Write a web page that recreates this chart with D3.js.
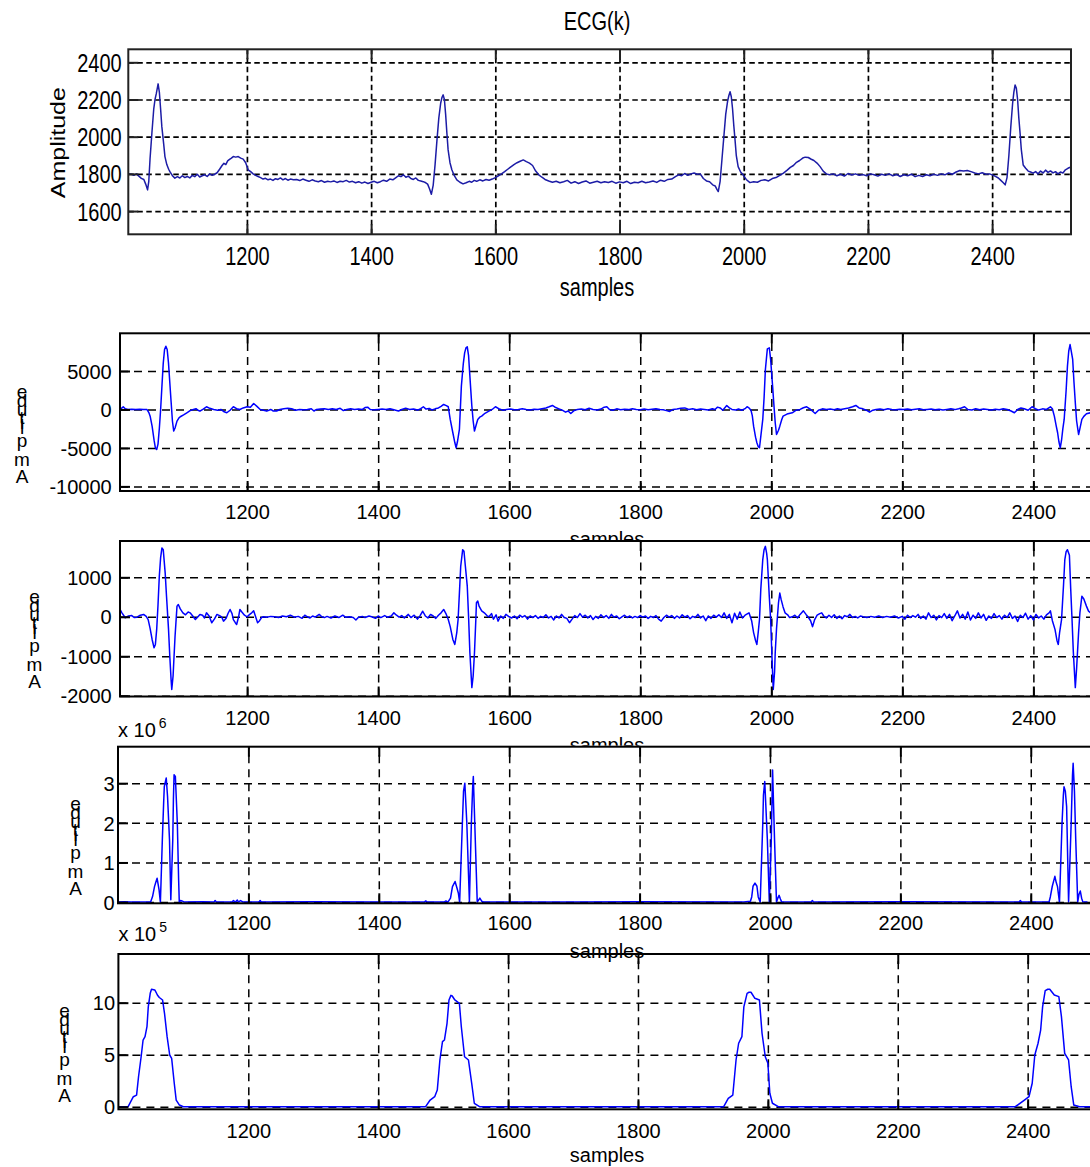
<!DOCTYPE html>
<html>
<head>
<meta charset="utf-8">
<script src="https://cdn.jsdelivr.net/npm/d3@7"></script>
<style>
  body { margin: 0; background: #fff; }
  svg { display: block; }
</style>
</head>
<body>
<svg id="chart"></svg>
<script>
// ---- data ----

// top panel: raw ECG, [sample, amplitude]
const ecgSignal = [
  [1009,1800],[1014,1798],[1018,1792],[1022,1800],[1026,1788],[1030,1776],[1034,1770],[1037,1745],[1040,1714],
  [1042,1760],[1044,1880],[1047,2020],[1050,2150],[1052,2200],[1054,2230],[1057,2284],[1059,2240],[1061,2150],
  [1063,2054],[1066,1960],[1068,1893],[1071,1850],[1074,1825],[1076,1812],[1080,1790],[1084,1777],
  [1088,1785],[1092,1778],[1096,1790],[1100,1780],[1104,1786],[1108,1778],[1112,1792],[1116,1785],[1120,1798],
  [1124,1783],[1128,1790],[1132,1795],[1136,1786],[1140,1800],[1144,1792],[1148,1798],
  [1152,1806],[1156,1825],[1160,1845],[1163,1857],[1166,1850],[1169,1870],[1172,1878],[1175,1885],[1178,1893],
  [1182,1890],[1186,1893],[1190,1885],[1194,1879],[1198,1860],[1202,1822],[1206,1812],[1210,1800],[1214,1792],[1218,1786],
  [1222,1780],[1226,1772],[1230,1776],[1234,1768],[1238,1772],[1242,1765],[1246,1774],[1250,1770],[1254,1778],
  [1258,1768],[1262,1775],[1266,1766],[1270,1772],[1275,1768],[1280,1770],[1285,1764],[1290,1772],[1295,1766],
  [1300,1760],[1305,1768],[1310,1762],[1315,1758],[1320,1764],[1325,1755],[1330,1760],[1335,1757],[1340,1762],
  [1345,1754],[1350,1760],[1355,1758],[1360,1765],[1365,1756],[1370,1760],[1375,1752],[1380,1758],[1385,1750],
  [1390,1756],[1395,1748],[1400,1755],[1405,1760],[1410,1752],[1415,1758],[1420,1766],[1425,1760],[1430,1772],
  [1435,1768],[1440,1780],[1444,1790],[1448,1785],[1452,1795],[1456,1782],[1460,1788],[1464,1775],[1468,1770],
  [1472,1778],[1476,1765],[1480,1762],[1484,1758],[1488,1752],[1491,1745],[1494,1720],[1497,1690],
  [1500,1740],[1503,1850],[1506,1980],[1509,2100],[1512,2180],[1514,2210],[1516,2225],[1518,2200],[1520,2120],
  [1522,2020],[1524,1929],[1527,1860],[1530,1822],[1534,1790],[1538,1768],[1543,1755],[1548,1746],[1553,1752],
  [1558,1760],[1562,1755],[1566,1765],[1570,1760],[1575,1768],[1580,1762],[1585,1770],[1590,1766],[1595,1772],
  [1600,1780],[1605,1790],[1610,1800],[1615,1812],[1620,1825],[1625,1838],[1630,1850],[1635,1860],[1640,1868],
  [1645,1875],[1650,1866],[1655,1858],[1660,1845],[1665,1815],[1670,1795],[1675,1782],[1680,1770],
  [1686,1762],[1692,1755],[1698,1760],[1704,1752],[1710,1758],[1716,1765],[1722,1750],[1728,1758],[1734,1748],
  [1740,1756],[1746,1762],[1752,1750],[1758,1755],[1764,1760],[1770,1752],[1776,1758],[1782,1754],[1788,1760],
  [1794,1750],[1800,1757],[1806,1752],[1812,1760],[1818,1748],[1824,1755],[1830,1752],[1836,1760],[1842,1752],
  [1848,1756],[1854,1762],[1860,1754],[1866,1766],[1872,1760],[1878,1770],[1884,1772],[1890,1785],[1895,1795],
  [1900,1790],[1905,1802],[1910,1792],[1915,1800],[1920,1805],[1925,1798],[1930,1800],[1935,1775],[1940,1762],
  [1945,1758],[1950,1741],[1954,1735],[1957,1715],[1959,1705],
  [1962,1760],[1965,1880],[1968,2000],[1971,2120],[1974,2190],[1976,2220],[1978,2242],[1980,2215],[1982,2150],
  [1984,2060],[1986,1983],[1988,1900],[1991,1839],[1995,1810],[1999,1795],[2004,1770],[2010,1753],[2016,1758],
  [2022,1755],[2028,1765],[2034,1768],[2040,1762],[2046,1775],[2052,1780],[2058,1792],[2064,1804],
  [2070,1820],[2075,1835],[2080,1845],[2085,1862],[2090,1872],[2095,1885],[2099,1890],[2104,1888],[2108,1880],
  [2113,1872],[2118,1858],[2123,1839],[2128,1815],[2133,1800],[2138,1795],
  [2144,1800],[2150,1790],[2156,1798],[2162,1788],[2168,1802],[2174,1794],[2180,1800],[2186,1792],[2192,1796],
  [2198,1790],[2204,1800],[2210,1795],[2216,1788],[2222,1798],[2228,1792],[2234,1800],[2240,1790],[2246,1797],
  [2252,1786],[2258,1795],[2264,1790],[2270,1798],[2276,1785],[2282,1792],[2288,1786],[2294,1795],[2300,1790],
  [2306,1798],[2312,1792],[2318,1800],[2324,1795],[2330,1805],[2336,1798],[2342,1810],[2348,1818],[2354,1815],
  [2360,1818],[2366,1812],[2372,1805],[2378,1800],[2384,1806],[2390,1798],[2396,1800],[2402,1792],[2406,1785],
  [2410,1778],[2414,1765],[2418,1752],[2421,1741],
  [2424,1780],[2427,1900],[2430,2050],[2433,2180],[2435,2240],[2437,2278],[2439,2260],[2441,2200],[2443,2100],
  [2445,2019],[2447,1930],[2450,1848],[2454,1830],[2458,1815],[2462,1810],[2466,1804],[2470,1812],[2474,1800],
  [2478,1815],[2482,1805],[2486,1820],[2490,1808],[2494,1816],[2498,1805],[2502,1812],[2506,1800],[2510,1810],
  [2514,1805],[2518,1822],[2522,1830],[2527,1838]
];

// second panel: filtered signal
const filteredSignal = [
  [1006,0],[1009,200],[1011,350],[1014,100],[1018,0],[1024,40],[1030,0],[1036,30],[1042,0],[1047,0],[1050,-400],
  [1052,-870],[1055,-2170],[1058,-4000],[1060,-4980],[1062,-5200],[1064,-4500],[1066,-2500],[1068,0],[1070,3030],
  [1072,6000],[1074,7800],[1076,8220],[1078,7800],[1080,6060],[1082,3500],[1084,1000],[1086,-1500],[1088,-2810],
  [1090,-2400],[1093,-1520],[1096,-1100],[1098,-950],[1103,-700],[1108,-430],[1113,-150],[1118,0],[1122,100],
  [1125,-100],[1128,-220],[1133,50],[1138,350],[1143,150],[1149,0],[1155,-100],[1160,0],[1165,-300],[1169,-430],
  [1174,-100],[1179,350],[1184,100],[1189,0],[1194,200],[1200,350],[1205,300],[1210,780],[1215,400],[1220,0],
  [1225,-100],[1230,-220],[1236,0],[1240,-200],[1245,-200],[1250,0],[1256,100],[1262,150],[1268,100],[1274,-100],
  [1280,0],[1286,-50],[1292,0],[1298,100],[1302,-200],[1306,0],[1312,50],[1318,100],[1324,0],[1330,80],[1336,0],
  [1342,150],[1347,-150],[1352,0],[1358,100],[1364,0],[1370,50],[1376,0],[1380,250],[1384,300],[1388,0],[1394,-50],
  [1400,0],[1406,50],[1412,0],[1418,80],[1424,-50],[1431,-200],[1436,0],[1442,170],[1448,0],[1454,60],[1460,-80],
  [1465,100],[1469,350],[1473,50],[1478,120],[1482,-60],[1487,80],[1492,200],[1496,400],[1500,650],[1504,500],
  [1507,350],[1510,-1300],[1514,-3030],[1517,-4300],[1519,-4980],[1521,-4200],[1524,-2600],[1527,3030],[1530,6000],
  [1532,7360],[1534,8000],[1536,8140],[1538,7000],[1539,5630],[1541,3000],[1543,430],[1545,-1500],[1547,-2810],
  [1550,-1900],[1552,-1300],[1555,-1000],[1558,-870],[1563,-500],[1569,-220],[1574,0],[1579,350],[1584,100],
  [1590,-90],[1596,0],[1602,60],[1608,-50],[1614,0],[1620,80],[1626,0],[1632,-60],[1638,40],[1644,0],[1650,100],
  [1656,200],[1661,350],[1666,520],[1671,250],[1676,80],[1681,-100],[1686,-350],[1690,-200],[1694,-520],[1699,-150],
  [1704,0],[1710,60],[1716,-40],[1722,150],[1728,0],[1734,-60],[1740,50],[1745,300],[1749,350],[1753,0],[1758,-100],
  [1764,80],[1770,-50],[1776,40],[1782,-20],[1788,100],[1794,0],[1800,-30],[1806,50],[1812,-40],[1818,20],[1824,80],
  [1830,0],[1835,-50],[1840,-150],[1845,-260],[1850,0],[1856,60],[1862,160],[1868,200],[1874,0],[1880,80],[1886,-40],
  [1892,60],[1898,0],[1904,-60],[1910,100],[1914,0],[1918,300],[1922,200],[1926,-100],[1932,520],[1936,200],[1940,0],
  [1946,-80],[1950,50],[1955,-100],[1960,100],[1963,350],[1966,200],[1969,-100],[1971,-800],[1973,-2170],
  [1976,-3600],[1978,-4330],[1980,-4800],[1982,-4980],[1984,-3500],[1987,-1300],[1989,1500],[1991,5200],[1993,7000],
  [1994,7880],[1997,8010],[1999,6500],[2002,3030],[2004,600],[2006,-1730],[2008,-3250],[2011,-2700],[2013,-2170],
  [2016,-1300],[2018,-870],[2024,-600],[2032,-430],[2038,-100],[2044,0],[2049,220],[2054,350],[2060,0],[2064,-300],
  [2067,-520],[2072,-100],[2078,80],[2084,0],[2090,60],[2096,-40],[2101,80],[2106,0],[2112,100],[2118,200],[2124,350],
  [2129,520],[2134,200],[2140,80],[2145,-100],[2150,-350],[2155,-100],[2160,0],[2166,60],[2172,-30],[2178,100],
  [2184,0],[2190,-50],[2196,40],[2202,0],[2208,60],[2214,-40],[2220,20],[2226,80],[2232,-50],[2238,0],[2244,60],
  [2250,-40],[2256,20],[2262,-80],[2268,0],[2274,80],[2280,-20],[2286,100],[2290,200],[2295,350],[2300,0],[2306,-60],
  [2312,100],[2318,-50],[2324,60],[2330,0],[2336,-80],[2342,40],[2348,-40],[2354,80],[2360,0],[2366,-200],[2371,-430],
  [2376,0],[2381,200],[2386,100],[2392,-100],[2398,350],[2403,100],[2408,-80],[2414,80],[2420,0],[2426,350],
  [2429,100],[2432,-870],[2435,-2200],[2437,-3030],[2439,-4200],[2441,-4980],[2443,-4000],[2445,-2500],[2447,-1300],
  [2450,2500],[2452,5630],[2454,7600],[2456,8440],[2458,7500],[2460,6500],[2462,3500],[2464,870],[2466,-1500],
  [2469,-3250],[2471,-2500],[2474,-1300],[2477,-900],[2481,-560],[2487,-430]
];

// third panel: derivative
const derivSignal = [
  [1006,185],[1009,100],[1014,-25],[1019,20],[1024,30],[1028,-20],[1032,-10],[1037,40],[1042,60],[1046,10],[1049,-70],
  [1052,-300],[1055,-575],[1058,-785],[1060,-700],[1062,-320],[1064,300],[1066,1030],[1068,1500],[1070,1745],
  [1072,1700],[1075,1100],[1077,520],[1080,-300],[1082,-1000],[1084,-1600],[1085,-1840],[1087,-1500],[1088,-1165],
  [1090,-500],[1093,270],[1095,310],[1098,200],[1102,100],[1106,50],[1110,120],[1113,100],[1117,20],[1121,-70],
  [1125,0],[1128,60],[1132,40],[1135,-30],[1138,100],[1142,20],[1146,-150],[1150,-60],[1154,60],[1158,30],[1161,0],
  [1164,-110],[1168,-40],[1171,90],[1174,185],[1177,80],[1179,-70],[1182,-150],[1184,-195],[1187,0],[1189,185],
  [1192,120],[1196,40],[1200,0],[1204,60],[1207,100],[1210,150],[1213,0],[1216,-150],[1219,-100],[1222,-20],[1225,0],
  [1230,-10],[1236,10],[1242,0],[1248,-20],[1254,20],[1260,0],[1266,40],[1272,-10],[1278,10],[1284,-40],[1288,40],
  [1292,0],[1296,-30],[1300,20],[1304,-10],[1310,60],[1314,0],[1318,-20],[1322,10],[1328,-30],[1334,20],[1340,-20],
  [1346,40],[1350,-10],[1356,0],[1362,-20],[1366,-80],[1370,-10],[1376,10],[1380,-20],[1386,20],[1390,0],[1396,-40],
  [1400,20],[1404,-20],[1410,30],[1414,-10],[1420,20],[1424,100],[1428,40],[1432,-10],[1436,30],[1440,-30],[1446,60],
  [1450,-20],[1455,40],[1460,-60],[1464,30],[1468,140],[1472,20],[1476,-30],[1480,60],[1484,20],[1488,-40],[1492,40],
  [1496,100],[1500,185],[1504,60],[1507,-70],[1510,-250],[1514,-575],[1517,-700],[1520,-400],[1522,-70],[1524,600],
  [1526,1280],[1529,1700],[1531,1660],[1533,1300],[1536,775],[1538,0],[1540,-910],[1543,-1795],[1545,-1500],
  [1547,-910],[1549,-100],[1550,355],[1552,400],[1554,270],[1558,150],[1562,100],[1566,30],[1569,0],[1573,80],
  [1576,-60],[1580,50],[1583,-110],[1587,20],[1591,-40],[1595,60],[1600,0],[1604,-30],[1608,20],[1612,-50],[1616,40],
  [1620,-10],[1624,30],[1628,-60],[1632,20],[1636,-20],[1640,30],[1644,-40],[1648,10],[1652,-20],[1656,50],[1660,-30],
  [1664,10],[1668,-80],[1672,20],[1676,-30],[1680,60],[1684,-20],[1688,-40],[1692,-150],[1696,-60],[1700,30],
  [1704,-20],[1708,80],[1712,-10],[1716,40],[1720,-30],[1724,30],[1728,-70],[1732,10],[1736,-40],[1740,50],[1744,-20],
  [1748,30],[1752,-40],[1756,60],[1760,-10],[1764,20],[1768,-50],[1772,0],[1776,40],[1780,-20],[1784,20],[1788,-30],
  [1792,10],[1796,-20],[1800,30],[1804,-10],[1808,20],[1812,-40],[1816,10],[1820,-20],[1824,30],[1828,-60],
  [1832,-110],[1836,-20],[1840,40],[1844,-10],[1848,30],[1852,-40],[1856,20],[1860,-30],[1864,50],[1868,-10],
  [1872,30],[1876,-50],[1880,10],[1884,-20],[1888,60],[1892,-30],[1896,20],[1900,-100],[1904,20],[1908,-40],
  [1912,40],[1916,-10],[1920,50],[1924,-20],[1928,100],[1932,-40],[1936,60],[1940,-150],[1944,90],[1948,-60],
  [1952,120],[1956,-30],[1960,40],[1966,100],[1970,-100],[1973,-400],[1976,-600],[1978,-700],[1980,-400],[1982,-70],
  [1984,700],[1987,1450],[1989,1700],[1991,1785],[1993,1600],[1994,1450],[1997,500],[1999,-70],[2001,-1000],
  [2003,-1840],[2005,-1400],[2006,-910],[2008,-300],[2011,355],[2013,600],[2015,440],[2018,250],[2021,100],[2025,50],
  [2028,-20],[2032,0],[2036,40],[2040,-30],[2044,60],[2049,150],[2053,60],[2056,0],[2060,-100],[2063,-250],[2066,-80],
  [2070,40],[2074,80],[2077,100],[2080,20],[2084,-30],[2088,40],[2092,-20],[2096,50],[2100,-40],[2104,20],[2108,-50],
  [2112,30],[2116,0],[2120,60],[2124,-20],[2128,10],[2132,-30],[2136,20],[2140,0],[2146,-20],[2152,10],[2158,-10],
  [2164,20],[2170,-20],[2176,10],[2182,-10],[2188,20],[2194,-30],[2200,10],[2204,-60],[2208,40],[2212,-20],[2216,30],
  [2220,-10],[2224,60],[2228,-40],[2232,20],[2236,-60],[2240,100],[2244,-20],[2248,40],[2252,-80],[2256,30],
  [2260,-20],[2264,80],[2268,-40],[2272,60],[2276,-100],[2280,20],[2284,150],[2288,-30],[2292,60],[2296,-60],
  [2300,120],[2304,-80],[2308,40],[2312,-40],[2316,100],[2320,-30],[2324,60],[2328,-90],[2332,20],[2336,-40],
  [2340,80],[2344,-20],[2348,30],[2352,-60],[2356,40],[2360,-20],[2364,100],[2368,-40],[2372,20],[2376,-120],
  [2380,40],[2384,-20],[2388,90],[2392,-60],[2396,30],[2400,-80],[2404,60],[2408,-30],[2412,20],[2416,-60],[2420,50],
  [2424,100],[2426,150],[2429,-100],[2433,-320],[2436,-600],[2438,-700],[2440,-400],[2443,-70],[2446,800],
  [2448,1450],[2450,1650],[2452,1700],[2455,1560],[2457,700],[2459,-70],[2461,-900],[2464,-1795],[2466,-1300],
  [2469,-400],[2471,100],[2474,520],[2477,450],[2481,270],[2484,150],[2487,100]
];

// fourth panel: squared signal, in units of 10^6
const squaredSignal = [
  [1000,0],[1010,0.01],[1020,0],[1050,0],[1053,0.14],[1056,0.39],[1058,0.5],[1060,0.6],[1063,0.31],[1065,0],
  [1066,0.5],[1068,1.57],[1070,2.5],[1071,2.91],[1074,3.13],[1076,2.66],[1079,1.57],[1081,0.06],[1084,1.57],
  [1085,2.6],[1086,3.21],[1088,3.17],[1091,1.99],[1093,0.56],[1094,0],[1096,0.04],[1098,0.03],[1102,0],[1130,0.01],
  [1147,0],[1149,0.04],[1151,0],[1175,0],[1177,0.04],[1180,0],[1183,0.05],[1185,0],[1188,0.04],[1192,0],[1216,0],
  [1218,0.04],[1220,0],[1300,0.01],[1400,0],[1470,0],[1472,0.03],[1474,0],[1500,0],[1503,0.03],[1506,0],[1510,0.1],
  [1513,0.39],[1517,0.52],[1520,0.35],[1522,0.23],[1524,0],[1528,1.9],[1530,2.8],[1532,3.0],[1535,2.0],[1539,0],
  [1542,2.0],[1544,2.9],[1545,3.17],[1548,1.57],[1551,0],[1553,0.05],[1555,0.1],[1558,0.02],[1561,0],[1700,0],
  [1800,0.01],[1960,0],[1970,0.02],[1972,0.13],[1974,0.4],[1977,0.48],[1980,0.4],[1982,0.13],[1985,0],[1989,2.0],
  [1990,2.7],[1992,3.04],[1996,1.57],[1999,0],[2002,1.57],[2004,3.33],[2007,1.57],[2010,0],[2012,0.1],[2014,0.17],
  [2016,0.08],[2018,0],[2063,0],[2065,0.04],[2067,0],[2200,0.01],[2382,0],[2384,0.04],[2386,0],[2428,0],[2430,0.13],
  [2433,0.4],[2437,0.65],[2439,0.5],[2441,0.39],[2444,0],[2448,2.0],[2450,2.7],[2451,2.91],[2453,2.8],[2455,2.41],
  [2458,0],[2462,2.0],[2464,3.2],[2465,3.5],[2467,2.8],[2469,1.57],[2472,0],[2474,0.2],[2476,0.28],[2478,0.1],
  [2480,0],[2487,0]
];

// fifth panel: moving-window integration, in units of 10^5
const integratedSignal = [
  [1000,0],[1015,0],[1019,0.48],[1023,0.96],[1028,1.12],[1031,2.88],[1035,4.8],[1038,6.41],[1041,6.73],[1044,7.69],
  [1046,9.6],[1049,10.9],[1051,11.29],[1056,11.22],[1058,11.0],[1060,10.74],[1063,10.5],[1068,10.26],[1071,8.98],
  [1075,6.73],[1079,4.97],[1082,4.65],[1086,2.25],[1089,0.64],[1094,0.16],[1100,0],
  [1473,0],[1480,0.64],[1487,0.96],[1491,1.6],[1495,4.49],[1499,6.25],[1502,6.41],[1506,8.02],[1509,10.26],
  [1512,10.7],[1514,10.64],[1518,10.26],[1525,9.94],[1528,7.69],[1533,4.8],[1539,4.49],[1544,2.25],[1548,0.33],[1556,0],
  [1932,0],[1939,0.8],[1946,1.12],[1951,4.49],[1955,6.1],[1960,6.73],[1963,9.6],[1968,10.9],[1971,11.0],[1974,11.0],
  [1980,10.42],[1987,10.26],[1991,7.06],[1996,4.8],[2000,4.17],[2003,1.29],[2007,0.33],[2016,0],
  [2381,0],[2395,0.64],[2402,0.96],[2407,2.25],[2411,4.97],[2416,6.1],[2420,7.37],[2423,9.6],[2427,11.15],
  [2431,11.29],[2434,11.29],[2441,10.74],[2448,10.58],[2452,8.66],[2457,5.13],[2463,4.49],[2467,1.92],[2471,0.16],
  [2480,0],[2520,0]
];

const sampleTicks = [1200, 1400, 1600, 1800, 2000, 2200, 2400];
const ecgTicks = [1600, 1800, 2000, 2200, 2400];
const filteredTicks = [-10000, -5000, 0, 5000];
const derivTicks = [-2000, -1000, 0, 1000];
const squaredTicks = [0, 1, 2, 3];
const integratedTicks = [0, 5, 10];

const titleText = 'ECG(k)';
const xLabelText = 'samples';
const yLabelText = 'Amplitude';

// ---- drawing ----
const FONT = '"Liberation Sans", Arial, Helvetica, sans-serif';
const svg = d3.select('#chart').attr('width', 1090).attr('height', 1167);

function drawPanel(p, i) {
  const g = svg.append('g');
  const w = p.right - p.left, h = p.bottom - p.top;
  const x = d3.scaleLinear().domain(p.xDomain).range([p.left, p.right]);
  const y = d3.scaleLinear().domain(p.yDomain).range([p.bottom, p.top]);

  // white axes background hides the label of the panel above
  if (p.cover) {
    g.append('rect').attr('x', p.left - 1).attr('y', p.top - 1)
      .attr('width', w + 2).attr('height', h + 2).attr('fill', '#fff');
  }

  // dashed grid
  const gridX = g.append('g').attr('transform', `translate(0,${p.bottom})`)
    .call(d3.axisBottom(x).tickValues(p.xTicks).tickSize(-h).tickFormat(''));
  const gridY = g.append('g').attr('transform', `translate(${p.left},0)`)
    .call(d3.axisLeft(y).tickValues(p.yTicks).tickSize(-w).tickFormat(''));
  [gridX, gridY].forEach(a => {
    a.select('.domain').remove();
    a.selectAll('line').attr('stroke', '#000')
      .attr('stroke-width', p.gridWidth).attr('stroke-dasharray', p.gridDash);
  });

  // signal
  svg.append('clipPath').attr('id', 'clip' + i).append('rect')
    .attr('x', p.left).attr('y', p.top).attr('width', w).attr('height', h);
  g.append('path').datum(p.data)
    .attr('clip-path', `url(#clip${i})`)
    .attr('fill', 'none')
    .attr('stroke', p.lineColor)
    .attr('stroke-width', p.lineWidth)
    .attr('stroke-linejoin', 'round')
    .attr('d', d3.line().x(d => x(d[0])).y(d => y(d[1])));

  // box
  g.append('rect').attr('x', p.left).attr('y', p.top).attr('width', w).attr('height', h)
    .attr('fill', 'none').attr('stroke', p.boxColor).attr('stroke-width', 2);

  // inner tick marks
  const tk = [
    g.append('g').attr('transform', `translate(0,${p.bottom})`).call(d3.axisBottom(x).tickValues(p.xTicks).tickSize(-p.tickLen).tickFormat('')),
    g.append('g').attr('transform', `translate(0,${p.top})`).call(d3.axisTop(x).tickValues(p.xTicks).tickSize(-p.tickLen).tickFormat('')),
    g.append('g').attr('transform', `translate(${p.left},0)`).call(d3.axisLeft(y).tickValues(p.yTicks).tickSize(-p.tickLen).tickFormat(''))
  ];
  tk.forEach(a => {
    a.select('.domain').remove();
    a.selectAll('line').attr('stroke', p.boxColor).attr('stroke-width', 2);
  });

  // tick labels
  const xl = g.append('g').attr('transform', `translate(0,${p.bottom})`)
    .call(d3.axisBottom(x).tickValues(p.xTicks).tickSize(0).tickPadding(p.xLabelPad).tickFormat(d => String(d)));
  const yl = g.append('g').attr('transform', `translate(${p.left},0)`)
    .call(d3.axisLeft(y).tickValues(p.yTicks).tickSize(0).tickPadding(p.yLabelPad).tickFormat(d => String(d)));
  [xl, yl].forEach(a => {
    a.select('.domain').remove();
    a.selectAll('text').attr('font-family', FONT).attr('font-size', p.fontSize).attr('fill', '#000')
      .attr('transform', `scale(${p.textScale},1)`);
  });
  yl.selectAll('text').attr('dy', '0.36em');

  // x label
  g.append('text').attr('font-family', FONT).attr('font-size', p.fontSize)
    .attr('text-anchor', 'middle')
    .attr('transform', `translate(${p.xLabelX},${p.xLabelY}) scale(${p.textScale},1)`)
    .text(xLabelText);

  if (p.stack) {
    // y label drawn as upright letters stacked bottom to top
    const chars = yLabelText.split('');
    g.selectAll(null).data(chars).join('text')
      .attr('font-family', FONT).attr('font-size', p.stackFont)
      .attr('text-anchor', 'middle')
      .attr('x', p.stack.x)
      .attr('y', (c, k) => p.stack.y - stackOffsets[k])
      .text(c => c);
  } else {
    g.append('text').attr('font-family', FONT).attr('font-size', p.fontSize)
      .attr('text-anchor', 'middle')
      .attr('transform', `translate(${p.yLabelX},${p.yLabelY}) rotate(-90) scale(1,${p.textScale})`)
      .text(yLabelText);
  }

  if (p.exponent) {
    const e = g.append('text').attr('font-family', FONT).attr('font-size', p.fontSize)
      .attr('x', p.left).attr('y', p.exponent.y);
    e.append('tspan').text('x 10');
    e.append('tspan').attr('font-size', 14).attr('dy', -9).attr('dx', 3).text(p.exponent.power);
  }

  if (p.title) {
    g.append('text').attr('font-family', FONT).attr('font-size', p.fontSize)
      .attr('text-anchor', 'middle')
      .attr('transform', `translate(${p.titleX},${p.titleY}) scale(${p.textScale},1)`)
      .text(p.title);
  }
}

// spacing of the stacked y-label letters, from the bottom "A"
const stackOffsets = [0, 17, 36, 49, 54, 59, 67, 76, 85];

const lowerStyle = {
  xTicks: sampleTicks, gridWidth: 1.5, gridDash: '8,6', lineColor: '#0000ff', lineWidth: 1.5,
  boxColor: '#000', tickLen: 10, fontSize: 20, textScale: 1, stackFont: 19, xLabelX: 607, cover: true
};

const panels = [
  {
    data: ecgSignal, xTicks: sampleTicks, yTicks: ecgTicks,
    xDomain: [1009, 2527], yDomain: [1475, 2470],
    left: 128.3, right: 1071, top: 49.3, bottom: 234.3,
    gridWidth: 1.7, gridDash: '5.5,3.5', lineColor: '#1c1ca6', lineWidth: 1.5, boxColor: '#222', tickLen: 10,
    fontSize: 25, textScale: 0.8, xLabelPad: 13, yLabelPad: 8.3,
    xLabelX: 597, xLabelY: 296, yLabelX: 65, yLabelY: 142.7,
    title: titleText, titleX: 597, titleY: 30, cover: false
  },
  Object.assign({}, lowerStyle, {
    data: filteredSignal, yTicks: filteredTicks, xDomain: [1006, 2520], yDomain: [-10600, 9900],
    left: 120, right: 1112, top: 333.3, bottom: 491, xLabelPad: 14.2, yLabelPad: 8.3,
    xLabelY: 546, stack: { x: 22, y: 483 }
  }),
  Object.assign({}, lowerStyle, {
    data: derivSignal, yTicks: derivTicks, xDomain: [1006, 2520], yDomain: [-2020, 1920],
    left: 120, right: 1112, top: 541, bottom: 696.5, xLabelPad: 14.5, yLabelPad: 8.3,
    xLabelY: 752, stack: { x: 34.5, y: 688 }
  }),
  Object.assign({}, lowerStyle, {
    data: squaredSignal, yTicks: squaredTicks, xDomain: [1000, 2520], yDomain: [-0.03, 3.92],
    left: 118, right: 1109, top: 746.7, bottom: 903.3, xLabelPad: 12.9, yLabelPad: 3.3,
    xLabelY: 958.3, stack: { x: 75.5, y: 895 }, exponent: { power: '6', y: 737 }
  }),
  Object.assign({}, lowerStyle, {
    data: integratedSignal, yTicks: integratedTicks, xDomain: [1000, 2520], yDomain: [-0.25, 14.68],
    left: 118.4, right: 1105.6, top: 954, bottom: 1109.3, xLabelPad: 14.9, yLabelPad: 3.3,
    xLabelY: 1162, stack: { x: 64.5, y: 1101.7 }, exponent: { power: '5', y: 941 }, cover: false
  })
];

panels.forEach(drawPanel);
</script>
</body>
</html>
